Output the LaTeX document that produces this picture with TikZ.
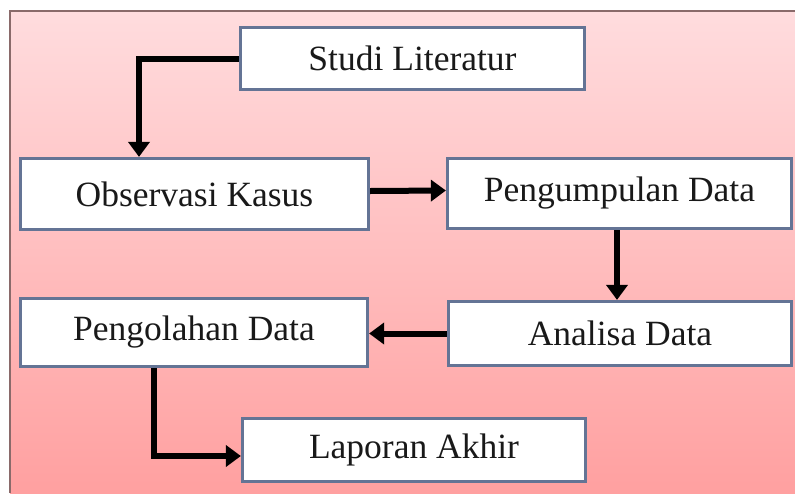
\documentclass[tikz,border=0pt]{standalone}
\usepackage{fontspec}
\setmainfont{Liberation Serif}
\usetikzlibrary{arrows.meta}
\definecolor{boxline}{HTML}{647495}
\definecolor{bgtop}{HTML}{FFDCDE}
\definecolor{bgmid}{HTML}{FDC2C4}
\definecolor{bgbot}{HTML}{FFA0A0}
\definecolor{frameline}{HTML}{8A6A6A}
\tikzset{
  stepbox/.style={draw=boxline, line width=3.2pt, fill=white, inner sep=0pt,
    font=\fontsize{35.5}{40}\selectfont, text=black!90},
  arr/.style={line width=6pt, -{Triangle[width=21pt,length=15pt]}, black}
}
\begin{document}
\begin{tikzpicture}[x=1pt,y=-1pt]
\useasboundingbox (0,0) rectangle (795,493);
\fill[white] (0,0) rectangle (795,493);
\shade[top color=bgtop, middle color=bgmid, bottom color=bgbot] (10,11) rectangle (795,493);
\draw[frameline, line width=1.5pt] (10,493) -- (10,11) -- (795,11);

\node[stepbox, minimum width=344pt, minimum height=62pt] (SL) at (412.5,58.5) {Studi Literatur};
\node[stepbox, minimum width=348pt, minimum height=71pt] (OK) at (194.5,194) {Observasi Kasus};
\node[stepbox, minimum width=344pt, minimum height=70pt] (PD) at (619.5,193.5) {Pengumpulan Data};
\node[stepbox, minimum width=343pt, minimum height=64pt] (AD) at (620,333.5) {Analisa Data};
\node[stepbox, minimum width=347pt, minimum height=68pt] (PgD) at (194,332.5) {Pengolahan Data};
\node[stepbox, minimum width=343pt, minimum height=63pt] (LA) at (414,450) {Laporan Akhir};

\draw[arr] (SL.west) -| ([xshift=-55.5pt]OK.north);
\draw[arr] ([yshift=3pt]OK.east) -- ([yshift=3pt]PD.west);
\draw[arr] ([xshift=-2.5pt]PD.south) -- ([xshift=-3pt]AD.north);
\draw[arr] (AD.west) -- ([yshift=-1pt]PgD.east);
\draw[arr] ([xshift=-40pt]PgD.south) |- ([yshift=-6pt]LA.west);
\end{tikzpicture}
\end{document}
